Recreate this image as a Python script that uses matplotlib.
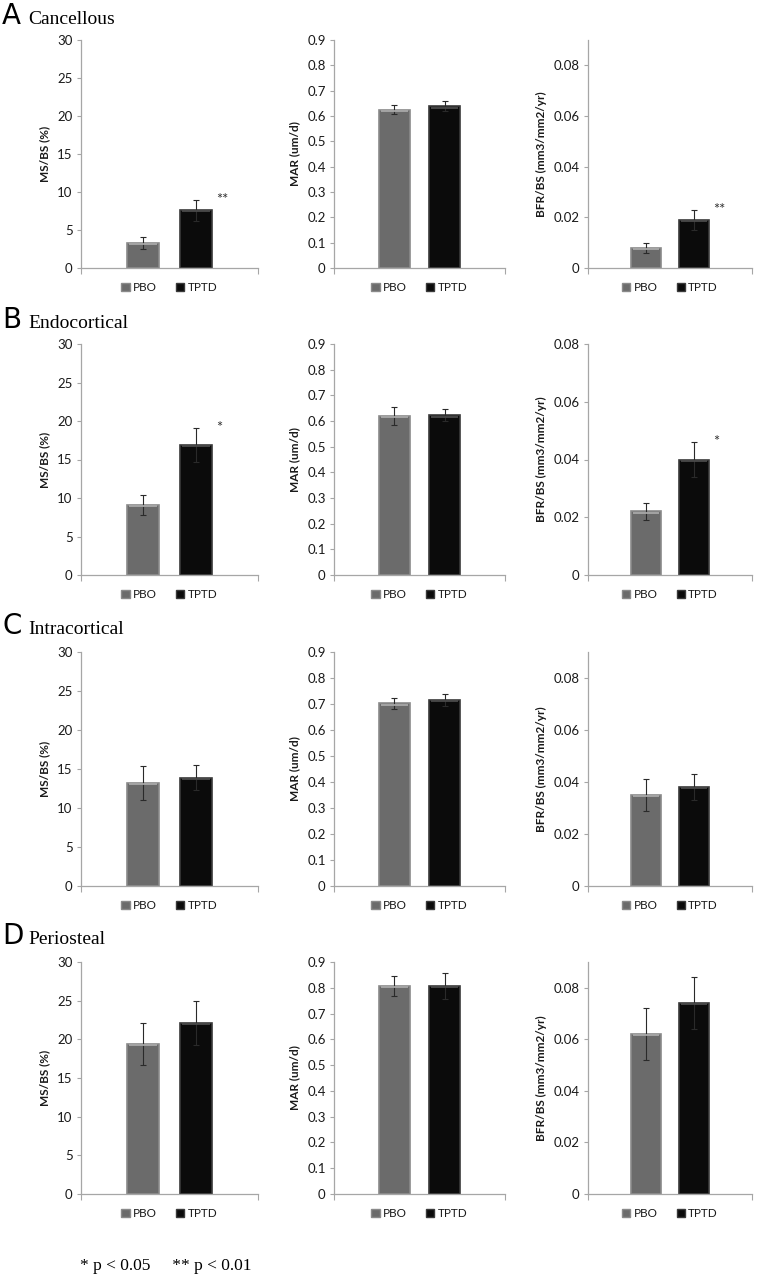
import numpy as np
import matplotlib
matplotlib.use('Agg')
import matplotlib.pyplot as plt
from matplotlib.patches import Patch

plt.rcParams['font.family'] = ['Lato', 'DejaVu Sans']

# data
sites = ['Cancellous', 'Endocortical', 'Intracortical', 'Periosteal']
letters = ['A', 'B', 'C', 'D']
groups = ['PBO', 'TPTD']

msbs_pbo = [3.3, 9.1, 13.2, 19.4]
msbs_pbo_err = [0.8, 1.3, 2.2, 2.7]
msbs_tptd = [7.6, 16.9, 13.9, 22.1]
msbs_tptd_err = [1.4, 2.2, 1.6, 2.8]

mar_pbo = [0.625, 0.62, 0.702, 0.807]
mar_pbo_err = [0.017, 0.036, 0.02, 0.037]
mar_tptd = [0.638, 0.622, 0.715, 0.807]
mar_tptd_err = [0.02, 0.023, 0.023, 0.05]

bfr_pbo = [0.0078, 0.022, 0.035, 0.062]
bfr_pbo_err = [0.002, 0.003, 0.006, 0.010]
bfr_tptd = [0.019, 0.040, 0.038, 0.074]
bfr_tptd_err = [0.004, 0.006, 0.005, 0.010]

msbs_sig = ['**', '*', '', '']
bfr_sig = ['**', '*', '', '']

W, H = 762, 1277
fig = plt.figure(figsize=(W / 100, H / 100), dpi=100)

rows_px = [(40, 268), (344, 575), (652, 886), (962, 1194)]
cols_px = [(81, 258), (334, 505), (588, 752)]
title_y = [24, 328, 634, 944]

bar_col = ['#6b6b6b', '#0b0b0b']
edge_col = ['#8a8a8a', '#3a3a3a']
top_col = ['#a8a8a8', '#4a4a4a']
axis_col = '#a6a6a6'

panels = [
    ('MS/BS (%)', msbs_pbo, msbs_pbo_err, msbs_tptd, msbs_tptd_err, msbs_sig,
     [0, 5, 10, 15, 20, 25, 30], ['0', '5', '10', '15', '20', '25', '30']),
    ('MAR (um/d)', mar_pbo, mar_pbo_err, mar_tptd, mar_tptd_err, ['', '', '', ''],
     [0, 0.1, 0.2, 0.3, 0.4, 0.5, 0.6, 0.7, 0.8, 0.9],
     ['0', '0.1', '0.2', '0.3', '0.4', '0.5', '0.6', '0.7', '0.8', '0.9']),
    ('BFR/BS (mm3/mm2/yr)', bfr_pbo, bfr_pbo_err, bfr_tptd, bfr_tptd_err, bfr_sig,
     [0, 0.02, 0.04, 0.06, 0.08], ['0', '0.02', '0.04', '0.06', '0.08']),
]
ytops = [[30, 0.9, 0.09], [30, 0.9, 0.08], [30, 0.9, 0.09], [30, 0.9, 0.09]]

xpos = np.array([-0.82, 0.82])
bw = 1.0

for r in range(4):
    top, bot = rows_px[r]
    fig.text(2 / W, 1 - title_y[r] / H, letters[r], fontsize=20,
             family=['DejaVu Sans'], va='baseline', ha='left')
    fig.text(28 / W, 1 - title_y[r] / H, sites[r], fontsize=14,
             family=['Liberation Serif'], va='baseline', ha='left')
    for c in range(3):
        l, rr = cols_px[c]
        ax = fig.add_axes([l / W, 1 - bot / H, (rr - l) / W, (bot - top) / H])
        lab, v1, e1, v2, e2, sig, ticks, tlabs = panels[c]
        vals = [v1[r], v2[r]]
        errs = [e1[r], e2[r]]
        for i in range(2):
            ax.bar(xpos[i], vals[i], bw, color=bar_col[i], edgecolor=edge_col[i],
                   linewidth=1.2, zorder=2)
            ax.hlines(vals[i] - ytops[r][c] * 0.005, xpos[i] - bw / 2 + 0.06,
                      xpos[i] + bw / 2 - 0.06, color=top_col[i], lw=1.3, zorder=3)
            ax.errorbar(xpos[i], vals[i], yerr=errs[i], fmt='none', ecolor='#2a2a2a',
                        elinewidth=0.8, capsize=2.5, capthick=0.8, zorder=2.5)
        if sig[r]:
            ax.text(xpos[1] + bw / 2 + 0.15, v2[r] + e2[r], sig[r], fontsize=10.5,
                    color='#333333', ha='left', va='center')
        ax.set_xlim(-2.77, 2.77)
        ax.set_ylim(0, ytops[r][c])
        ax.set_yticks(ticks)
        ax.set_yticklabels(tlabs)
        ax.set_xticks([-2.77, 2.77])
        ax.set_xticklabels([])
        for s in ['top', 'right']:
            ax.spines[s].set_visible(False)
        for s in ['left', 'bottom']:
            ax.spines[s].set_color(axis_col)
            ax.spines[s].set_linewidth(0.9)
        ax.tick_params(axis='y', colors=axis_col, labelcolor='#1a1a1a', labelsize=9.5,
                       length=3, width=0.8, pad=3)
        ax.tick_params(axis='x', colors=axis_col, length=4, width=0.8)
        ax.set_ylabel(lab, fontsize=8.5, fontweight='bold', color='#1a1a1a', labelpad=5)
        handles = [Patch(facecolor=bar_col[i], edgecolor=edge_col[i], label=groups[i])
                   for i in range(2)]
        ax.legend(handles=handles, loc='upper center', bbox_to_anchor=(0.5, -0.015),
                  ncol=2, frameon=False, fontsize=8.5, handlelength=0.7,
                  handleheight=0.7, handletextpad=0.3, columnspacing=1.6,
                  labelcolor='#1a1a1a')

fig.text(80 / W, 1 - 1266 / H, '* p < 0.05     ** p < 0.01', fontsize=12.5,
         family=['Liberation Serif'], va='center', ha='left')

fig.savefig('out.png', dpi=100, facecolor='white')
